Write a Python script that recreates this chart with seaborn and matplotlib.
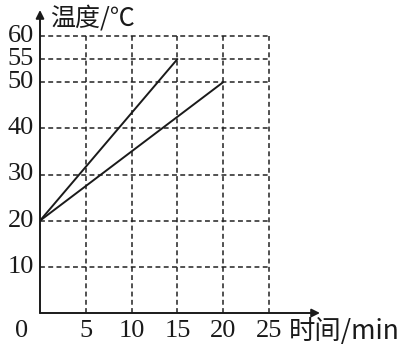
import matplotlib
matplotlib.use("Agg")
import matplotlib.pyplot as plt
import seaborn as sns
import pandas as pd

sns.set_theme(style="white")
plt.rcParams['font.family'] = ['Liberation Serif', 'Noto Sans CJK SC', 'DejaVu Sans']

# data
line_a_time = [0, 15]
line_a_temp = [20, 55]
line_b_time = [0, 20]
line_b_temp = [20, 50]
x_ticks = [5, 10, 15, 20, 25]
y_ticks = [10, 20, 30, 40, 50, 55, 60]
x_label = "时间/min"
y_label = "温度/℃"

df = pd.DataFrame({
    "time": line_a_time + line_b_time,
    "temp": line_a_temp + line_b_temp,
    "series": ["a"] * len(line_a_time) + ["b"] * len(line_b_time),
})

W, H = 408, 348
fig = plt.figure(figsize=(W / 100, H / 100), dpi=100)
x0, x1 = 40, 320
y0, y1 = 313, 10
ax = fig.add_axes([x0 / W, 1 - y0 / H, (x1 - x0) / W, (y0 - y1) / H])
pxx = (269 - 40) / 25
pxy = (313 - 36) / 60
xmax = (x1 - x0) / pxx
ymax = (y0 - y1) / pxy
ax.set_xlim(0, xmax)
ax.set_ylim(0, ymax)
for s in ax.spines.values():
    s.set_visible(False)
ax.set_xticks([])
ax.set_yticks([])
ax.patch.set_alpha(0)

dash = (0, (3.2, 2.2))
gtop = max(y_ticks)
gright = max(x_ticks)
for xv in x_ticks:
    ax.plot([xv, xv], [0, gtop], color="#222222", lw=1.1, linestyle=dash)
for yv in y_ticks:
    ax.plot([0, gright], [yv, yv], color="#222222", lw=1.1, linestyle=dash)

sns.lineplot(data=df, x="time", y="temp", units="series", estimator=None,
             color="#1a1a1a", lw=1.4, ax=ax, legend=False)
ax.set_xlabel("")
ax.set_ylabel("")

# axes with arrows
ax.annotate("", xy=(xmax, 0), xytext=(0, 0),
            arrowprops=dict(arrowstyle="-|>", color="#1a1a1a", lw=1.4,
                            mutation_scale=12, shrinkA=0, shrinkB=0))
ax.annotate("", xy=(0, ymax), xytext=(0, 0),
            arrowprops=dict(arrowstyle="-|>", color="#1a1a1a", lw=1.4,
                            mutation_scale=12, shrinkA=0, shrinkB=0))

fs = 19
ylab_y = -(331 - 313) / pxy
for xv in x_ticks:
    ax.text(xv, ylab_y, str(xv), ha="center", va="center", fontsize=fs, color="#1a1a1a")
ax.text(-18 / pxx, ylab_y, "0", ha="center", va="center", fontsize=fs, color="#1a1a1a")
for yv in y_ticks:
    ax.text(-6 / pxx, yv, str(yv), ha="right", va="center", fontsize=fs, color="#1a1a1a")

ax.text((289 - 40) / pxx, ylab_y, x_label, ha="left", va="center", fontsize=fs,
        color="#1a1a1a", family=['Noto Sans CJK SC', 'Liberation Serif'])
ax.text(10 / pxx, (313 - 19) / pxy, y_label, ha="left", va="center", fontsize=fs - 1,
        color="#1a1a1a", family=['Noto Sans CJK SC', 'Liberation Serif'])

fig.savefig("out.png", dpi=100)
